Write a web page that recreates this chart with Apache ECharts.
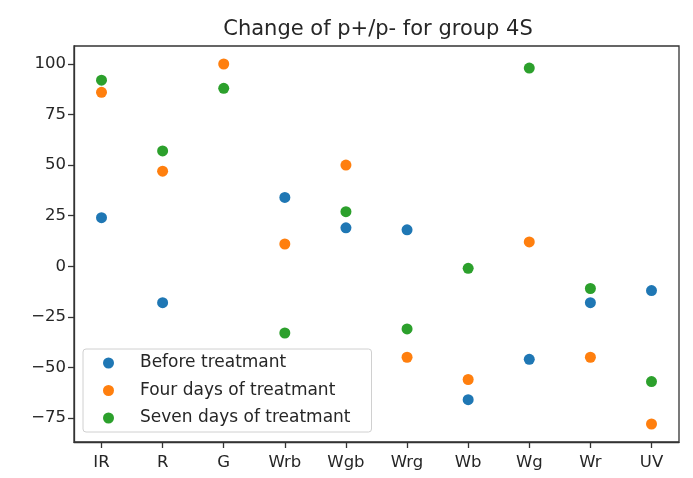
<!DOCTYPE html>
<html>
<head>
<meta charset="utf-8">
<script src="https://cdn.jsdelivr.net/npm/echarts@6/dist/echarts.min.js"></script>
<style>
  html, body { margin: 0; padding: 0; background: #ffffff; }
  #chart { width: 693px; height: 478px; }
</style>
</head>
<body>
<div id="chart"></div>
<script>
// Stimulus conditions along the x axis
const categories = ['IR', 'R', 'G', 'Wrb', 'Wgb', 'Wrg', 'Wb', 'Wg', 'Wr', 'UV'];

// Change of p+/p- (%) per condition, one array per measurement day
const beforeTreatment = [24, -18, null, 34, 19, 18, -66, -46, -18, -12];
const fourDays        = [86, 47, 100, 11, 50, -45, -56, 12, -45, -78];
const sevenDays       = [92, 57, 88, -33, 27, -31, -1, 98, -11, -57];

const seriesNames = ['Before treatmant', 'Four days of treatmant', 'Seven days of treatmant'];
const yTicks = [-75, -50, -25, 0, 25, 50, 75, 100];

const colors = ['#1f77b4', '#ff7f0e', '#2ca02c'];
const FONT = 'DejaVu Sans';

function toPoints(values) {
  const pts = [];
  values.forEach((v, i) => { if (v !== null) pts.push([i, v]); });
  return pts;
}

const chart = echarts.init(document.getElementById('chart'), null, { renderer: 'canvas' });

const axisColor = '#333333';
const textColor = '#262626';

function scatter(name, values, z) {
  return {
    name, type: 'scatter', symbol: 'circle', symbolSize: 11,
    itemStyle: { opacity: 1 },
    data: toPoints(values), z
  };
}

chart.setOption({
  animation: false,
  backgroundColor: '#ffffff',
  color: colors,
  title: {
    text: 'Change of p+/p- for group 4S',
    left: 378,
    top: 19,
    padding: 0,
    textAlign: 'center',
    textStyle: { fontFamily: FONT, fontSize: 21, fontWeight: 'normal', color: textColor }
  },
  grid: {
    left: 74, right: 14, top: 46, bottom: 36,
    show: true,
    borderColor: axisColor,
    borderWidth: 1.3,
    backgroundColor: '#ffffff'
  },
  legend: {
    orient: 'vertical',
    left: 83,
    top: 349,
    padding: [4, 21, 4, 20],
    itemWidth: 11,
    itemHeight: 11,
    itemGap: 7.5,
    icon: 'circle',
    borderColor: '#d0d0d0',
    borderWidth: 1,
    borderRadius: 3,
    backgroundColor: 'rgba(255,255,255,0.8)',
    textStyle: { fontFamily: FONT, fontSize: 17, color: textColor, lineHeight: 20, padding: [0, 0, 0, 21] },
    data: seriesNames
  },
  xAxis: {
    type: 'value',
    min: -0.45,
    max: 9.45,
    splitLine: { show: false },
    axisLine: { show: true, onZero: false, lineStyle: { color: axisColor, width: 1.3 } },
    axisTick: {
      show: true, length: 6, inside: false,
      customValues: categories.map((c, i) => i),
      lineStyle: { color: axisColor, width: 1.3 }
    },
    axisLabel: {
      show: true,
      margin: 12,
      customValues: categories.map((c, i) => i),
      formatter: v => categories[Math.round(v)],
      fontFamily: FONT, fontSize: 16.5, color: textColor
    }
  },
  yAxis: {
    type: 'value',
    min: -86.9,
    max: 108.9,
    splitLine: { show: false },
    axisLine: { show: true, onZero: false, lineStyle: { color: axisColor, width: 1.3 } },
    axisTick: {
      show: true, length: 6, inside: false,
      customValues: yTicks,
      lineStyle: { color: axisColor, width: 1.3 }
    },
    axisLabel: {
      show: true,
      margin: 8,
      customValues: yTicks,
      formatter: v => (v < 0 ? '\u2212' + Math.abs(v) : String(v)),
      fontFamily: FONT, fontSize: 16.5, color: textColor
    }
  },
  series: [
    scatter(seriesNames[0], beforeTreatment, 2),
    scatter(seriesNames[1], fourDays, 3),
    scatter(seriesNames[2], sevenDays, 4)
  ]
});
</script>
</body>
</html>
